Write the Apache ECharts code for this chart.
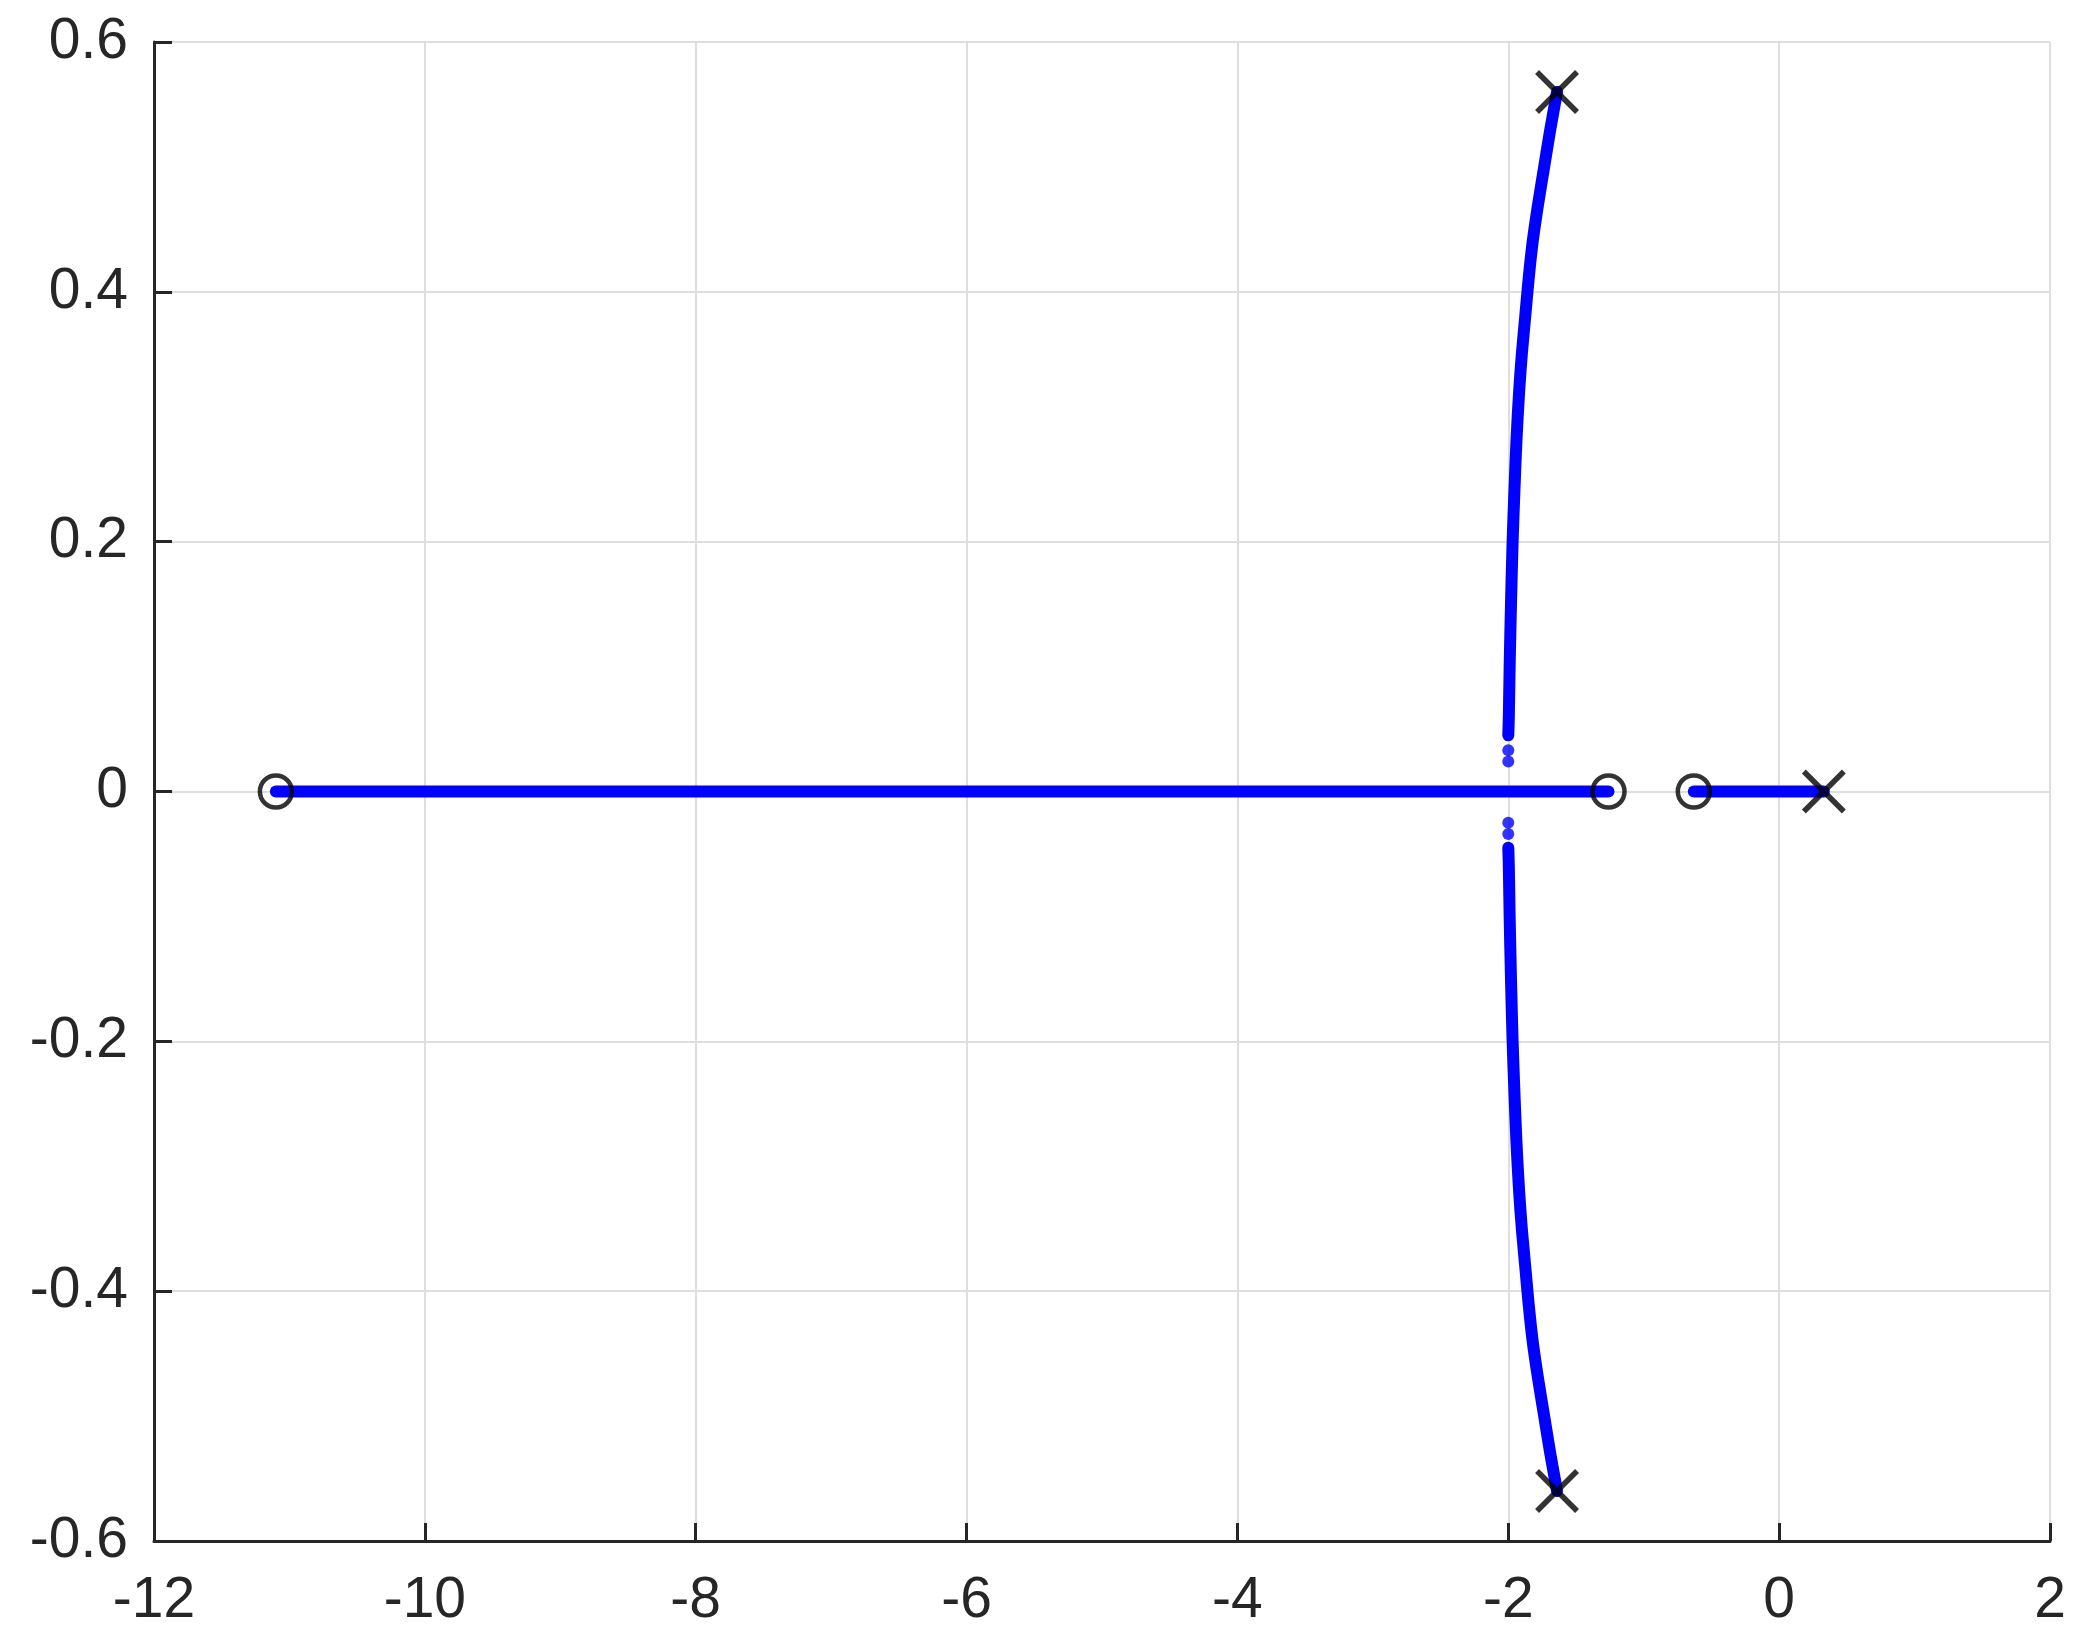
<!DOCTYPE html>
<html>
<head>
<meta charset="utf-8">
<title>Root locus</title>
<script src="https://cdn.jsdelivr.net/npm/echarts@6/dist/echarts.min.js"></script>
<style>
	* { margin: 0; padding: 0; }
	#main { width: 2099px; height: 1648px; background: #fff; }
</style>
</head>
<body>
<div id="main"></div>
<script>
	let realLeft = [[-11.1, 0], [-1.26, 0]];
	let realRight = [[-0.63, 0], [0.33, 0]];
	let upperBranch = [[-1.64, 0.56], [-1.69, 0.53], [-1.735, 0.50], [-1.78, 0.47], [-1.82, 0.44], [-1.85, 0.41],
		[-1.875, 0.38], [-1.90, 0.35], [-1.92, 0.32], [-1.94, 0.28], [-1.955, 0.24], [-1.968, 0.20],
		[-1.98, 0.15], [-1.99, 0.10], [-1.996, 0.06], [-2.0, 0.045]];
	let lowerBranch = [[-1.64, -0.56], [-1.69, -0.53], [-1.735, -0.50], [-1.78, -0.47], [-1.82, -0.44], [-1.85, -0.41],
		[-1.875, -0.38], [-1.90, -0.35], [-1.92, -0.32], [-1.94, -0.28], [-1.955, -0.24], [-1.968, -0.20],
		[-1.98, -0.15], [-1.99, -0.10], [-1.996, -0.06], [-2.0, -0.045]];
	let breakDots = [[-2.0, 0.024], [-2.0, 0.033], [-2.0, -0.025], [-2.0, -0.034]];
	let poles = [[-1.64, 0.56], [-1.64, -0.56], [0.33, 0]];
	let zeros = [[-11.1, 0], [-1.26, 0], [-0.63, 0]];

	let xMin = -12, xMax = 2, xStep = 2;
	let yMin = -0.6, yMax = 0.6, yStep = 0.2;

	let myChart = echarts.init(document.getElementById('main'));
	let textColor = '#262626';
	let gridColor = '#dedede';
	let blue = '#0000ff';

	function branch(data) {
		return {
			type: 'line',
			data: data,
			symbol: 'none',
			smooth: 0.3,
			lineStyle: { color: blue, width: 12, cap: 'round', join: 'round' },
			z: 2
		};
	}

	let option = {
		animation: false,
		backgroundColor: '#fff',
		grid: { left: 154, top: 42, right: 49, bottom: 107 },
		xAxis: {
			type: 'value',
			min: xMin, max: xMax, interval: xStep,
			axisLine: { show: true, onZero: false, lineStyle: { color: textColor, width: 3 } },
			axisTick: { show: true, inside: true, length: 18, lineStyle: { color: textColor, width: 3 } },
			axisLabel: { color: textColor, fontSize: 57, fontFamily: 'Liberation Sans', margin: 32 },
			splitLine: { show: true, lineStyle: { color: gridColor, width: 2 } }
		},
		yAxis: {
			type: 'value',
			min: yMin, max: yMax, interval: yStep,
			axisLine: { show: true, onZero: false, lineStyle: { color: textColor, width: 3 } },
			axisTick: { show: true, inside: true, length: 18, lineStyle: { color: textColor, width: 3 } },
			axisLabel: { color: textColor, fontSize: 57, fontFamily: 'Liberation Sans', margin: 26 },
			splitLine: { show: true, lineStyle: { color: gridColor, width: 2 } }
		},
		series: [
			branch(realLeft),
			branch(realRight),
			branch(upperBranch),
			branch(lowerBranch),
			{
				type: 'scatter',
				data: breakDots,
				symbol: 'circle',
				symbolSize: 12,
				itemStyle: { color: blue },
				z: 2
			},
			{
				type: 'scatter',
				data: zeros,
				symbol: 'circle',
				symbolSize: 32,
				itemStyle: { color: 'transparent', borderColor: '#000', borderWidth: 4.5 },
				z: 5
			},
			{
				type: 'scatter',
				data: poles,
				symbol: 'path://M0,0L10,10M10,0L0,10',
				symbolSize: 40,
				itemStyle: { color: 'transparent', borderColor: '#000', borderWidth: 5.5 },
				z: 5
			}
		]
	};
	myChart.setOption(option);
</script>
</body>
</html>
